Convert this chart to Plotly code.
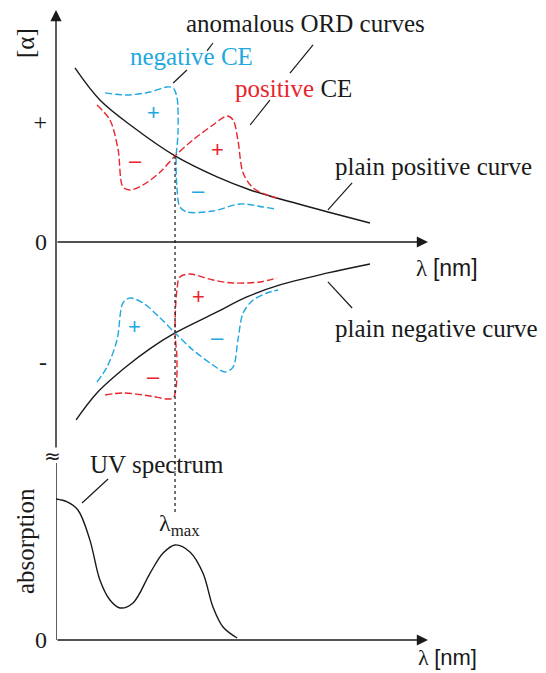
import plotly.graph_objects as go

# ---- data (wavelength in arbitrary units, 0..100 along the arrow) ----
# plain ORD curves, [α] in arbitrary units
plain_pos_x = [5.1, 11.8, 20.7, 32.0, 43.3, 52.2, 57.5, 73.1, 84.4]
plain_pos_y = [145.0, 118.3, 95.8, 71.7, 54.2, 43.3, 38.3, 25.0, 15.8]
plain_neg_x = [5.4, 11.0, 19.1, 25.3, 32.0, 43.3, 51.3, 60.2, 73.1, 84.4]
plain_neg_y = [-148.3, -125.8, -103.3, -88.8, -75.8, -58.3, -45.8, -35.8, -25.8, -18.3]

# anomalous ORD curves around the plain positive curve
negce_pos_x = [13.2, 19.1, 25.3, 29.8, 31.5, 32.5, 32.8, 32.3, 32.5, 33.3, 35.2, 42.2, 49.5, 55.6, 58.9]
negce_pos_y = [124.2, 122.5, 125.0, 129.2, 128.3, 120.8, 90.8, 70.8, 45.8, 29.2, 25.0, 25.8, 31.7, 29.2, 27.5]
posce_pos_x = [11.0, 14.5, 16.7, 18.0, 19.9, 23.4, 28.0, 32.0, 36.8, 42.2, 46.0, 47.6, 48.9, 50.3, 53.0, 56.7, 59.4]
posce_pos_y = [114.2, 101.7, 76.7, 45.8, 43.3, 47.5, 58.3, 71.7, 85.0, 97.5, 105.0, 101.7, 85.0, 57.5, 45.0, 39.2, 36.7]

# anomalous ORD curves around the plain negative curve
posce_neg_x = [13.2, 18.0, 25.3, 29.8, 31.5, 32.3, 32.5, 32.0, 32.5, 33.3, 36.0, 42.2, 47.6, 54.8, 59.4]
posce_neg_y = [-127.5, -125.8, -128.3, -130.8, -130.0, -120.8, -95.8, -75.8, -40.0, -29.2, -26.7, -31.7, -34.2, -33.3, -30.0]
negce_neg_x = [11.0, 13.7, 16.4, 18.0, 19.9, 23.4, 28.0, 32.0, 36.8, 42.2, 45.4, 47.6, 48.9, 50.3, 53.0, 56.7, 59.7]
negce_neg_y = [-116.7, -104.2, -81.7, -50.8, -46.7, -50.8, -63.3, -75.8, -90.0, -102.5, -108.3, -104.2, -81.7, -59.2, -48.3, -42.5, -40.0]

# UV absorption spectrum
uv_x = [0.0, 3.0, 5.9, 9.1, 11.8, 14.5, 17.2, 20.7, 25.3, 28.8, 32.0, 36.0, 39.5, 42.2, 44.9, 48.7]
uv_y = [78.3, 76.7, 72.2, 55.6, 33.3, 22.2, 17.8, 20.6, 37.2, 48.3, 52.8, 48.9, 37.2, 18.3, 7.2, 1.1]

lambda_max = 32.0
crossing_pos = 71.7

ord_ticks = [100, 0, -100]
ord_ticktext = ["+", "0", "-"]
abs_ticks = [0]
abs_ticktext = ["0"]

BLUE = "#1EA8E0"
RED = "#E8252D"
BLACK = "#1a1a1a"
SERIF = "Liberation Serif"
SANS = "Liberation Sans"

W, H = 546, 673

fig = go.Figure()

def curve(x, y, color, dash=None, yaxis="y", smoothing=1.0):
    fig.add_trace(go.Scatter(
        x=x, y=y, mode="lines", yaxis=yaxis, hoverinfo="skip",
        line=dict(color=color, width=1.4, shape="spline", smoothing=smoothing,
                  dash=dash),
    ))

dash = "7px,3px"
curve(plain_pos_x, plain_pos_y, BLACK)
curve(plain_neg_x, plain_neg_y, BLACK)
curve(negce_pos_x, negce_pos_y, BLUE, dash, smoothing=0.9)
curve(posce_pos_x, posce_pos_y, RED, dash, smoothing=0.9)
curve(posce_neg_x, posce_neg_y, RED, dash, smoothing=0.9)
curve(negce_neg_x, negce_neg_y, BLUE, dash, smoothing=0.9)
curve(uv_x, uv_y, BLACK, yaxis="y2")

top_lo, top_hi = -172.5, 193.3
bot_hi = 98.3

shapes = []
# dotted guide from the crossing point down to λmax
shapes.append(dict(type="line", xref="x", yref="y", x0=lambda_max, x1=lambda_max,
                   y0=crossing_pos, y1=top_lo, line=dict(color=BLACK, width=1.2, dash="dot")))
shapes.append(dict(type="line", xref="x", yref="paper", x0=lambda_max, x1=lambda_max,
                   y0=1 - 449 / H, y1=1 - 512 / H, line=dict(color=BLACK, width=1.2, dash="dot")))
# lower absorption axis
shapes.append(dict(type="line", xref="x", yref="y2", x0=0, x1=0, y0=0, y1=bot_hi,
                   line=dict(color=BLACK, width=1.4)))

# leader lines (x0, y0, x1, y1, axis)
leaders = [
    (42.2, 165.8, 40.6, 159.2, "y"),
    (69.1, 164.2, 62.9, 140.8, "y"),
    (35.2, 143.3, 31.5, 132.5, "y"),
    (57.5, 118.3, 52.2, 97.5, "y"),
    (79.6, 49.2, 73.1, 26.7, "y"),
    (73.1, -33.3, 79.6, -55.0, "y"),
    (14.0, 89.4, 7.0, 76.1, "y2"),
]
for x0, y0, x1, y1, ax in leaders:
    shapes.append(dict(type="line", xref="x", yref=ax, x0=x0, y0=y0, x1=x1, y1=y1,
                       line=dict(color=BLACK, width=1.2)))

ann = []
# axis arrows
def arrow(x, y, ax, ay, yref):
    ann.append(dict(x=x, y=y, ax=ax, ay=ay, xref="x", yref=yref, axref="x", ayref=yref,
                    text="", showarrow=True, arrowhead=2, arrowsize=1.6,
                    arrowwidth=1.4, arrowcolor=BLACK, standoff=0, startstandoff=0))

arrow(0, top_hi, 0, top_lo, "y")
arrow(100, 0, 0, 0, "y")
arrow(100, 0, 0, 0, "y2")

def text(x, y, s, size=25, color=BLACK, yref="y", xanchor="center", font=SERIF,
         angle=0, xref="x"):
    ann.append(dict(x=x, y=y, xref=xref, yref=yref, text=s, showarrow=False,
                    xanchor=xanchor, yanchor="middle", textangle=angle,
                    font=dict(family=font, size=size, color=color)))

lam_nm = 'λ <span style="font-family:Liberation Sans">[nm]</span>'

text(67.2, 181.7, "anomalous ORD curves")
text(36.3, 154.2, "negative CE", color=BLUE)
text(47.6, 128.3, f'<span style="color:{RED}">positive</span> CE', xanchor="left")
text(74.5, 62.5, "plain positive curve", xanchor="left")
text(74.5, -71.7, "plain negative curve", xanchor="left")
text(447 / W, 1 - 268 / H, lam_nm, size=23, xref="paper", yref="paper")
text(25 / W, 1 - 43 / H, "[α]", angle=-90, xref="paper", yref="paper")

# signs of the Cotton effects
signs = [
    (26.1, 107.5, "+", BLUE), (21.5, 68.3, "–", RED),
    (43.5, 76.7, "+", RED), (38.4, 42.5, "–", BLUE),
    (38.4, -45.8, "+", RED), (21.2, -70.8, "+", BLUE),
    (43.3, -80.0, "–", BLUE), (26.1, -111.7, "–", RED),
]
for sx, sy, s, c in signs:
    text(sx, sy, s, size=22, color=c, font=SANS)

text(27.2, 97.2, "UV spectrum", yref="y2")
text(33.3, 63.9, "λ<sub>max</sub>", yref="y2", size=24)
text(25 / W, 1 - 541 / H, "absorption", angle=-90, xref="paper", yref="paper")
text(52 / W, 1 - 456 / H, "≈", xref="paper", yref="paper", size=20, font="DejaVu Sans")
ann.append(dict(x=447 / W, y=0.002, xref="paper", yref="paper", text=lam_nm,
                showarrow=False, xanchor="center", yanchor="bottom",
                font=dict(family=SERIF, size=22, color=BLACK)))

axis_common = dict(showgrid=False, zeroline=False, showline=False, ticks="",
                   automargin=False,
                   tickfont=dict(family=SERIF, size=24, color=BLACK))

fig.update_layout(
    template="none",
    width=W, height=H, autosize=False,
    margin=dict(l=0, r=0, t=0, b=0, pad=0, autoexpand=False),
    paper_bgcolor="white", plot_bgcolor="white",
    showlegend=False,
    xaxis=dict(domain=[56 / W, 428 / W], range=[0, 100], visible=False,
               automargin=False),
    yaxis=dict(domain=[1 - 449 / H, 1 - 10 / H], range=[top_lo, top_hi],
               tickvals=ord_ticks, ticktext=ord_ticktext, ticklabelstandoff=8,
               **axis_common),
    yaxis2=dict(domain=[1 - 640 / H, 1 - 463 / H], range=[0, bot_hi], anchor="x",
                tickvals=abs_ticks, ticktext=abs_ticktext, ticklabelstandoff=8,
                **axis_common),
    shapes=shapes,
    annotations=ann,
)

fig.write_html("out.html")
